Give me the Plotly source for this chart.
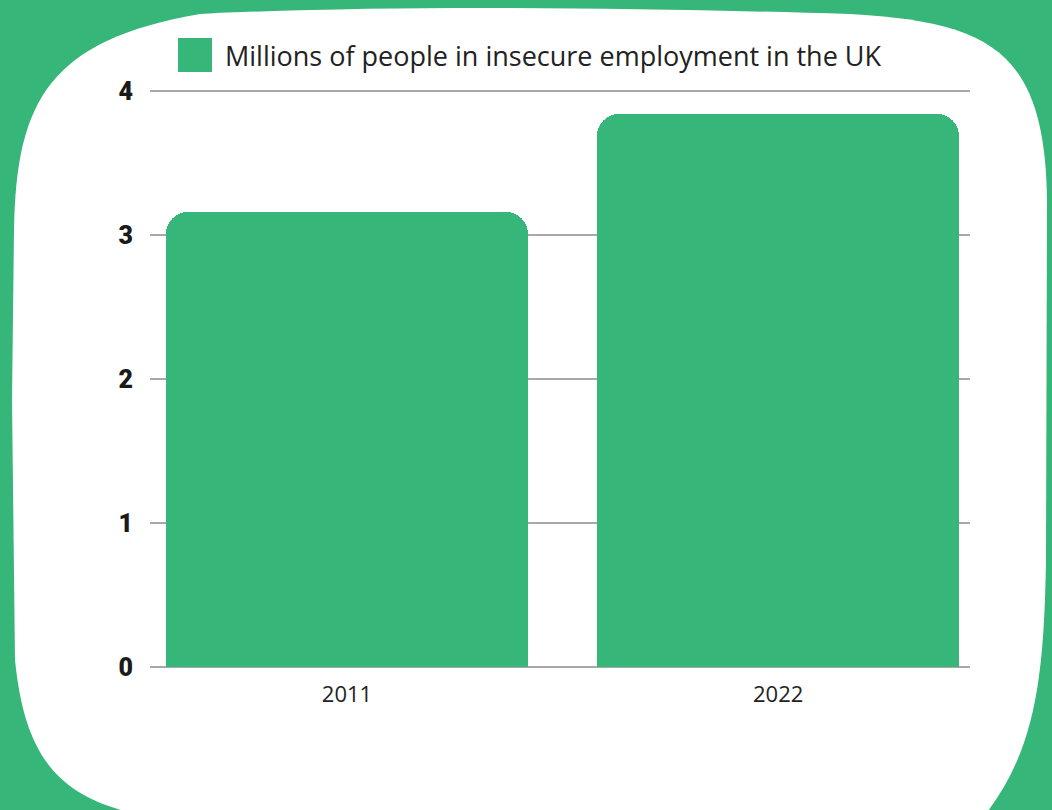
import plotly.graph_objects as go

# ---- data ----
years = ["2011", "2022"]
values = [3.16, 3.84]
series_name = "Millions of people in insecure employment in the UK"
y_ticks = [0, 1, 2, 3, 4]

GREEN = "#36B679"
W, H = 1052, 810
L, R, T, B = 150, 82, 88, 143
PW, PH = W - L - R, H - T - B
Y_TOP = 4.02


def px(x, y):
    return f"{(x - L) / PW:.5f},{(H - B - y) / PH:.5f}"


blob = (
    f"M {px(14, 230)} "
    f"C {px(16, 100)} {px(50, 40)} {px(200, 14)} "
    f"C {px(400, 4)} {px(650, 8)} {px(850, 14)} "
    f"C {px(990, 22)} {px(1045, 50)} {px(1047, 200)} "
    f"L {px(1046, 560)} "
    f"C {px(1044, 680)} {px(1035, 750)} {px(985, 815)} "
    f"L {px(140, 815)} "
    f"C {px(60, 797)} {px(25, 760)} {px(15, 660)} "
    f"L {px(12, 400)} Z"
)

fig = go.Figure()
fig.add_trace(go.Bar(
    x=years, y=values, name=series_name,
    marker=dict(color=GREEN, line=dict(width=0), cornerradius=22),
    width=0.84, showlegend=False,
))

fig.add_shape(type="path", path=blob, xref="paper", yref="paper",
              fillcolor="white", line=dict(width=0), layer="below")

# legend (manual)
fig.add_shape(type="rect", xref="paper", yref="paper",
              x0=(178 - L) / PW, x1=(212 - L) / PW,
              y0=(H - B - 72) / PH, y1=(H - B - 38) / PH,
              fillcolor=GREEN, line=dict(width=0))
fig.add_annotation(text=series_name, xref="paper", yref="paper",
                   x=(223 - L) / PW, y=(H - B - 55) / PH,
                   xanchor="left", yanchor="middle", showarrow=False,
                   font=dict(family="Open Sans", size=27, color="#222222"))

fig.update_layout(
    width=W, height=H,
    margin=dict(l=L, r=R, t=T, b=B),
    paper_bgcolor=GREEN,
    plot_bgcolor="rgba(0,0,0,0)",
    bargap=0,
    xaxis=dict(
        range=[-0.457, 1.445], showgrid=False, zeroline=False, showline=False,
        ticks="", tickfont=dict(family="Open Sans", size=22, color="#222222"),
        ticklabelstandoff=12,
    ),
    yaxis=dict(
        range=[0, Y_TOP], tickvals=y_ticks, ticktext=[str(v) for v in y_ticks],
        showgrid=True, gridcolor="#a9a9a9", gridwidth=1.5,
        zeroline=True, zerolinecolor="#a9a9a9", zerolinewidth=1.5,
        showline=False, ticks="",
        tickfont=dict(family="Roboto Black, Roboto", size=25, color="#1a1a1a", weight=900),
        ticklabelstandoff=16,
    ),
)

fig.write_html("out.html")
